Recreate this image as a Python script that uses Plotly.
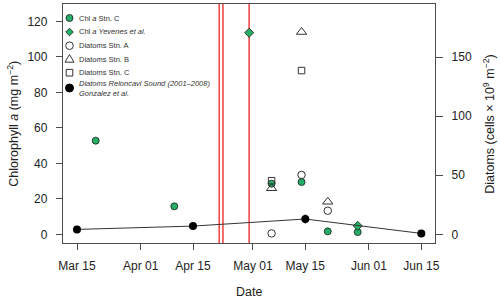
import plotly.graph_objects as go
import pandas as pd

# ---- data ----
chl_c_dates = ['2010-03-20', '2010-04-10', '2010-05-06', '2010-05-14', '2010-05-21', '2010-05-29']
chl_c = [52.8, 15.8, 28.6, 29.5, 1.7, 1.3]

yev_dates = ['2010-04-30', '2010-05-29']
yev = [113.6, 4.8]

diatA_dates = ['2010-05-06', '2010-05-14', '2010-05-21']
diatA = [0.8, 50.3, 20.0]

diatB_dates = ['2010-05-06', '2010-05-14', '2010-05-21']
diatB = [39.0, 171.2, 27.6]

diatC_dates = ['2010-05-06', '2010-05-14']
diatC = [45.4, 138.6]

gonz_dates = ['2010-03-15', '2010-04-15', '2010-05-15', '2010-06-15']
gonz = [4.2, 7.0, 13.0, 0.8]
gonz_err = [0, 0, 3.8, 0]

event_dates = ['2010-04-22', '2010-04-23', '2010-04-30']

x_tick_dates = ['2010-03-15', '2010-04-01', '2010-04-15', '2010-05-01', '2010-05-15', '2010-06-01', '2010-06-15']
x_tick_labels = ['Mar 15', 'Apr 01', 'Apr 15', 'May 01', 'May 15', 'Jun 01', 'Jun 15']
left_ticks = [0, 20, 40, 60, 80, 100, 120]
right_ticks = [0, 50, 100, 150]

legend_labels = [
    'Chl <i>a</i> Stn. C',
    'Chl <i>a</i> <i>Yevenes et al.</i>',
    'Diatoms Stn. A',
    'Diatoms Stn. B',
    'Diatoms Stn. C',
    '<i>Diatoms Reloncavi Sound (2001\u20132008)</i><br><i>Gonzalez et al.</i>',
]

# ---- style ----
FONT = 'Liberation Sans, Arial, sans-serif'
GREEN = '#26ad66'
EDGE = '#1a1a1a'
RED = '#f04a4a'
AX = '#4d4d4d'

W, H = 500, 301
ML, MR, MT, MB = 63, 65, 4, 58
PW, PH = W - ML - MR, H - MT - MB


def px(xp):
    return (xp - ML) / PW


def py(yp):
    return 1 - (yp - MT) / PH


fig = go.Figure()

# Gonzalez line + points (right axis)
fig.add_trace(go.Scatter(
    x=gonz_dates, y=gonz, yaxis='y2', mode='lines+markers',
    line=dict(color='#333333', width=1),
    marker=dict(symbol='circle', size=8, color='black'),
    error_y=dict(type='data', array=gonz_err, visible=True, width=0, color='black', thickness=1.2),
    showlegend=False))

# Diatoms (right axis)
fig.add_trace(go.Scatter(
    x=diatA_dates, y=diatA, yaxis='y2', mode='markers',
    marker=dict(symbol='circle-open', size=7.5, color='#333333', line=dict(width=1)),
    showlegend=False))
fig.add_trace(go.Scatter(
    x=diatB_dates, y=diatB, yaxis='y2', mode='markers',
    marker=dict(symbol='triangle-up-open', size=9, color='#333333', line=dict(width=1)),
    showlegend=False))
fig.add_trace(go.Scatter(
    x=diatC_dates, y=diatC, yaxis='y2', mode='markers',
    marker=dict(symbol='square-open', size=6.5, color='#333333', line=dict(width=1)),
    showlegend=False))

# Chl a (left axis)
fig.add_trace(go.Scatter(
    x=chl_c_dates, y=chl_c, mode='markers',
    marker=dict(symbol='circle', size=7, color=GREEN, line=dict(color=EDGE, width=0.8)),
    showlegend=False))
fig.add_trace(go.Scatter(
    x=yev_dates, y=yev, mode='markers',
    marker=dict(symbol='diamond', size=7, color=GREEN, line=dict(color=EDGE, width=0.8)),
    showlegend=False))

# event lines
shapes = []
for d in event_dates:
    shapes.append(dict(type='line', xref='x', yref='paper', x0=d, x1=d, y0=0, y1=1,
                       line=dict(color=RED, width=1.6), layer='below'))

# manual legend
leg_y = [18, 32, 45.7, 59, 72.7, 88]
leg_x = 69.5
txt_x = 77
ann = []
for i, lab in enumerate(legend_labels):
    yy = leg_y[i]
    ann.append(dict(xref='paper', yref='paper', x=px(txt_x), y=py(yy), text=lab,
                    showarrow=False, xanchor='left', yanchor='middle', align='left',
                    font=dict(family=FONT, size=7.5, color='#333333')))
    xa, ya = px(leg_x), py(yy)
    common = dict(xref='paper', yref='paper', xsizemode='pixel', ysizemode='pixel',
                  xanchor=xa, yanchor=ya, layer='above')
    if i == 0:
        shapes.append(dict(type='circle', x0=-3.5, x1=3.5, y0=-3.5, y1=3.5,
                           fillcolor=GREEN, line=dict(color=EDGE, width=0.8), **common))
    elif i == 1:
        shapes.append(dict(type='path', path='M -3.8 0 L 0 3.8 L 3.8 0 L 0 -3.8 Z',
                           fillcolor=GREEN, line=dict(color=EDGE, width=0.8), **common))
    elif i == 2:
        shapes.append(dict(type='circle', x0=-3.8, x1=3.8, y0=-3.8, y1=3.8,
                           line=dict(color='#333333', width=1), **common))
    elif i == 3:
        shapes.append(dict(type='path', path='M -4.5 -3.2 L 4.5 -3.2 L 0 4.5 Z',
                           line=dict(color='#333333', width=1), **common))
    elif i == 4:
        shapes.append(dict(type='rect', x0=-3.3, x1=3.3, y0=-3.3, y1=3.3,
                           line=dict(color='#333333', width=1), **common))
    else:
        shapes.append(dict(type='circle', x0=-4, x1=4, y0=-4, y1=4,
                           fillcolor='black', line=dict(color='black', width=1), **common))

# axis titles
ann.append(dict(xref='paper', yref='paper', x=px(13), y=py(123.8), text='Chlorophyll <i>a</i> (mg m<sup>\u22122</sup>)',
                textangle=-90, showarrow=False, xanchor='center', yanchor='middle',
                font=dict(family=FONT, size=12.5, color='#222222')))
ann.append(dict(xref='paper', yref='paper', x=px(489), y=py(123.8), text='Diatoms (cells \u00d7 10<sup>9</sup> m<sup>\u22122</sup>)',
                textangle=-90, showarrow=False, xanchor='center', yanchor='middle',
                font=dict(family=FONT, size=12.5, color='#222222')))
ann.append(dict(xref='paper', yref='paper', x=px(249), y=py(292), text='Date',
                showarrow=False, xanchor='center', yanchor='middle',
                font=dict(family=FONT, size=12.5, color='#222222')))

x0 = pd.Timestamp('2010-03-15') - pd.Timedelta(days=3.74)
x1 = pd.Timestamp('2010-06-15') + pd.Timedelta(days=3.66)

tickfont = dict(family=FONT, size=12, color='#222222')
fig.update_layout(
    width=W, height=H,
    margin=dict(l=ML, r=MR, t=MT, b=MB),
    plot_bgcolor='white', paper_bgcolor='white',
    font=dict(family=FONT),
    xaxis=dict(type='date', range=[x0, x1], tickvals=x_tick_dates, ticktext=x_tick_labels,
               showgrid=False, zeroline=False, showline=True, mirror=True,
               linecolor=AX, linewidth=1.3, ticks='outside', ticklen=6, tickcolor=AX,
               tickwidth=1.2, tickfont=tickfont, ticklabelstandoff=5),
    yaxis=dict(range=[-4.85, 129.8], tickvals=left_ticks, showgrid=False, zeroline=False,
               showline=True, linecolor=AX, linewidth=1.3, ticks='outside', ticklen=6,
               tickcolor=AX, tickwidth=1.2, tickfont=tickfont, ticklabelstandoff=6),
    yaxis2=dict(range=[-7.3, 194.9], tickvals=right_ticks, overlaying='y', side='right',
                showgrid=False, zeroline=False, showline=True, linecolor=AX, linewidth=1.3,
                ticks='outside', ticklen=7, tickcolor=AX, tickwidth=1.2, tickfont=tickfont,
                ticklabelstandoff=6),
    shapes=shapes,
    annotations=ann,
    showlegend=False,
)

fig.write_html('out.html', config={'displayModeBar': False},
               post_script="document.body.style.margin='0';document.body.style.padding='0';document.body.style.overflow='hidden';")
